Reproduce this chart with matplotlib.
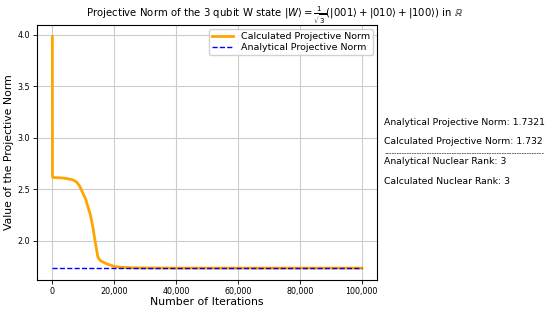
import matplotlib
matplotlib.use("Agg")
import matplotlib.pyplot as plt
import numpy as np

# iterations and calculated projective norm
iterations = [0, 50, 200, 1000, 3000, 5000, 6500, 7750, 8800, 9900, 10800,
              11500, 12300, 13100, 13900, 14700, 15500, 17400, 19900, 22000,
              26000, 30000, 40000, 60000, 80000, 100000]
calc_norm = [3.98, 2.62, 2.612, 2.611, 2.608, 2.60, 2.59, 2.571, 2.53, 2.458,
             2.40, 2.327, 2.25, 2.13, 1.98, 1.84, 1.805, 1.775, 1.749, 1.740,
             1.735, 1.733, 1.732, 1.732, 1.732, 1.732]
analytic_norm = 1.7321

info_lines = ["Analytical Projective Norm: 1.7321",
              "Calculated Projective Norm: 1.732",
              "Analytical Nuclear Rank: 3",
              "Calculated Nuclear Rank: 3"]

fig = plt.figure(figsize=(5.5, 3.09), dpi=100)
ax = fig.add_axes([0.067, 0.094, 0.619, 0.826])

ax.plot(iterations, calc_norm, color="orange", lw=2, label="Calculated Projective Norm")
ax.hlines(analytic_norm, iterations[0], iterations[-1], colors="blue",
          linestyles="--", lw=1, label="Analytical Projective Norm")
ax.margins(x=0.05, y=0.05)
ax.set_ylim(1.617, 4.095)
ax.grid(True, color="#cccccc", lw=0.8)
ax.set_axisbelow(True)
ax.xaxis.set_major_formatter(matplotlib.ticker.FuncFormatter(lambda v, _: f"{int(v):,}"))
ax.tick_params(labelsize=5.8, length=3, width=0.6, pad=2)
for s in ax.spines.values():
    s.set_linewidth(0.8)
ax.set_xlabel("Number of Iterations", fontsize=7.8, labelpad=1)
ax.set_ylabel("Value of the Projective Norm", fontsize=7.8, labelpad=2)
ax.legend(loc="upper right", fontsize=6.8, handlelength=2.2, borderpad=0.3,
          labelspacing=0.2, framealpha=0.9)

fig.suptitle(r"Projective Norm of the 3 qubit W state $|W\rangle = \frac{1}{\sqrt{3}}(|001\rangle + |010\rangle + |100\rangle)$ in $\mathbb{R}$",
             fontsize=7.3, y=0.985)

fig.text(0.699, 0.603, info_lines[0], fontsize=6.7, va="center")
fig.text(0.699, 0.541, info_lines[1], fontsize=6.7, va="center")
fig.text(0.699, 0.505, "-" * 64, fontsize=5, va="center")
fig.text(0.699, 0.477, info_lines[2], fontsize=6.7, va="center")
fig.text(0.699, 0.414, info_lines[3], fontsize=6.7, va="center")

fig.savefig("out.png", dpi=100)
